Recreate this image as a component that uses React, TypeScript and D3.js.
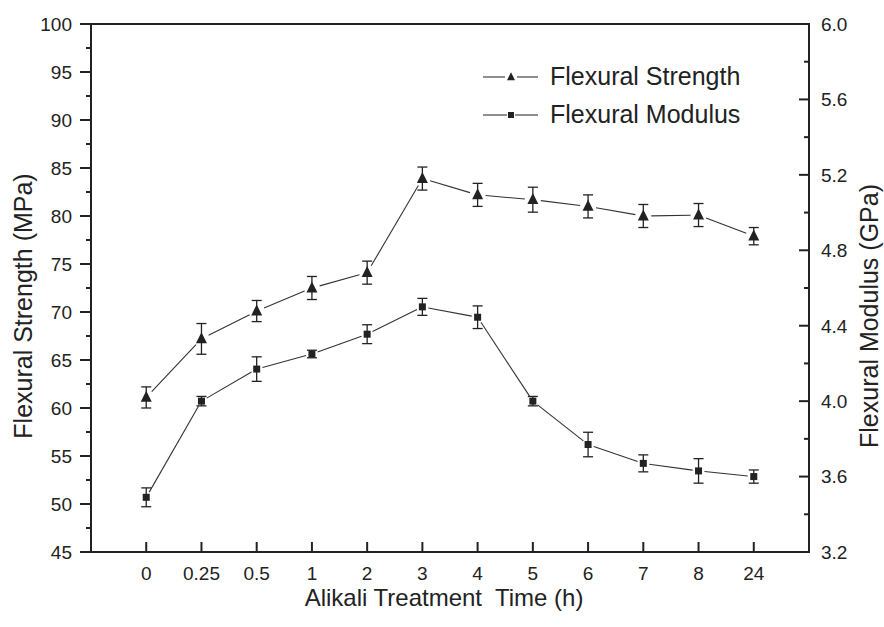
import React from 'react'
import * as d3 from 'd3'

// categories along x
const times = ['0', '0.25', '0.5', '1', '2', '3', '4', '5', '6', '7', '8', '24']

// flexural strength (MPa) and its error
const strength = [61.1, 67.2, 70.1, 72.5, 74.1, 83.9, 82.2, 81.7, 81.0, 80.0, 80.1, 77.9]
const strengthErr = [1.1, 1.6, 1.1, 1.2, 1.2, 1.2, 1.2, 1.3, 1.2, 1.2, 1.2, 0.9]

// flexural modulus (GPa) and its error
const modulus = [3.49, 4.0, 4.17, 4.25, 4.355, 4.5, 4.445, 4.0, 3.77, 3.67, 3.63, 3.6]
const modulusErr = [0.05, 0.025, 0.065, 0.02, 0.05, 0.045, 0.06, 0.025, 0.065, 0.045, 0.065, 0.035]

const leftTicks = [45, 50, 55, 60, 65, 70, 75, 80, 85, 90, 95, 100]
const rightTicks = [3.2, 3.6, 4.0, 4.4, 4.8, 5.2, 5.6, 6.0]

const App = () => {
    const width = 884, height = 627
    const left = 91, right = 809, top = 24, bottom = 552
    const font = 'Liberation Sans, Arial, sans-serif'
    const ink = '#222'

    const x = d3.scalePoint<string>().domain(times).range([left, right]).padding(1)
    const yL = d3.scaleLinear().domain([45, 100]).range([bottom, top])
    const yR = d3.scaleLinear().domain([3.2, 6.0]).range([bottom, top])

    const leftMinor = leftTicks.slice(0, -1).map(t => t + 2.5)
    const rightMinor = rightTicks.slice(0, -1).map(t => t + 0.2)

    // segments that stop short of the markers
    const segs = (vals: number[], y: (v: number) => number, gap: number) => {
        const out: JSX.Element[] = []
        for (let i = 0; i < vals.length - 1; i++) {
            const x1 = x(times[i])!, y1 = y(vals[i])
            const x2 = x(times[i + 1])!, y2 = y(vals[i + 1])
            const len = Math.hypot(x2 - x1, y2 - y1)
            const dx = (x2 - x1) / len, dy = (y2 - y1) / len
            out.push(<line key={i} x1={x1 + dx * gap} y1={y1 + dy * gap} x2={x2 - dx * gap} y2={y2 - dy * gap}
                stroke="#333" strokeWidth={1.1} />)
        }
        return out
    }

    const errBars = (vals: number[], errs: number[], y: (v: number) => number) =>
        vals.map((v, i) => {
            const cx = x(times[i])!
            const y1 = y(v + errs[i]), y2 = y(v - errs[i])
            return <g key={i} stroke={ink} strokeWidth={1.3}>
                <line x1={cx} x2={cx} y1={y1} y2={y2} />
                <line x1={cx - 5} x2={cx + 5} y1={y1} y2={y1} />
                <line x1={cx - 5} x2={cx + 5} y1={y2} y2={y2} />
            </g>
        })

    const tri = (cx: number, cy: number, s: number) =>
        `M${cx},${cy - s * 0.6}L${cx + s / 2},${cy + s * 0.4}L${cx - s / 2},${cy + s * 0.4}Z`

    return (
        <svg width={width} height={height} style={{ position: 'absolute', left: 0, top: 0, background: '#fff' }}
            fontFamily={font}>
            {/* frame */}
            <rect x={left} y={top} width={right - left} height={bottom - top} fill="none" stroke={ink} strokeWidth={2} />

            {/* left axis */}
            {leftTicks.map(t => (
                <g key={t}>
                    <line x1={left - 11} x2={left} y1={yL(t)} y2={yL(t)} stroke={ink} strokeWidth={2} />
                    <text x={72} y={yL(t)} dy="0.36em" textAnchor="end" fontSize={19} fill={ink}>{t}</text>
                </g>
            ))}
            {leftMinor.map(t => (
                <line key={t} x1={left - 5} x2={left} y1={yL(t)} y2={yL(t)} stroke={ink} strokeWidth={2} />
            ))}

            {/* right axis */}
            {rightTicks.map(t => (
                <g key={t}>
                    <line x1={right - 10} x2={right} y1={yR(t)} y2={yR(t)} stroke={ink} strokeWidth={2} />
                    <text x={821} y={yR(t)} dy="0.36em" textAnchor="start" fontSize={19} fill={ink}>{t.toFixed(1)}</text>
                </g>
            ))}
            {rightMinor.map(t => (
                <line key={t} x1={right - 5} x2={right} y1={yR(t)} y2={yR(t)} stroke={ink} strokeWidth={2} />
            ))}

            {/* bottom axis */}
            {times.map(t => (
                <g key={t}>
                    <line x1={x(t)} x2={x(t)} y1={bottom - 10} y2={bottom} stroke={ink} strokeWidth={2} />
                    <text x={x(t)} y={580} textAnchor="middle" fontSize={19} fill={ink}>{t}</text>
                </g>
            ))}

            {/* axis titles */}
            <text x={444} y={606} textAnchor="middle" fontSize={24} fill={ink}
                style={{ whiteSpace: 'pre' }}>{'Alikali Treatment  Time (h)'}</text>
            <text transform="translate(32,306) rotate(-90)" textAnchor="middle" fontSize={25} fill={ink}>
                Flexural Strength (MPa)</text>
            <text transform="translate(878,316) rotate(-90)" textAnchor="middle" fontSize={25} fill={ink}>
                Flexural Modulus (GPa)</text>

            {/* strength series */}
            {segs(strength, yL, 8)}
            {errBars(strength, strengthErr, yL)}
            {strength.map((v, i) => <path key={i} d={tri(x(times[i])!, yL(v), 11)} fill={ink} />)}

            {/* modulus series */}
            {segs(modulus, yR, 6)}
            {errBars(modulus, modulusErr, yR)}
            {modulus.map((v, i) => <rect key={i} x={x(times[i])! - 3.5} y={yR(v) - 3.5} width={7} height={7} fill={ink} />)}

            {/* legend */}
            <g>
                <line x1={483} x2={505} y1={77} y2={77} stroke="#333" strokeWidth={1.1} />
                <line x1={517} x2={538} y1={77} y2={77} stroke="#333" strokeWidth={1.1} />
                <path d={tri(511, 77, 8)} fill={ink} />
                <text x={550} y={85} fontSize={25} fill={ink}>Flexural Strength</text>

                <line x1={483} x2={507} y1={115} y2={115} stroke="#333" strokeWidth={1.1} />
                <line x1={515} x2={538} y1={115} y2={115} stroke="#333" strokeWidth={1.1} />
                <rect x={508} y={112} width={6} height={6} fill={ink} />
                <text x={550} y={123} fontSize={25} fill={ink}>Flexural Modulus</text>
            </g>
        </svg>
    )
}

export default App
